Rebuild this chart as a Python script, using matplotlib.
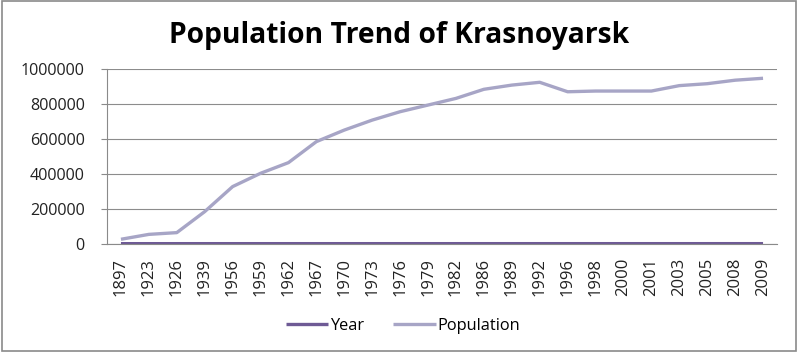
import matplotlib
matplotlib.use("Agg")
import matplotlib.pyplot as plt
from matplotlib.patches import Rectangle

years = ["1897", "1923", "1926", "1939", "1956", "1959", "1962", "1967", "1970", "1973",
         "1976", "1979", "1982", "1986", "1989", "1992", "1996", "1998", "2000", "2001",
         "2003", "2005", "2008", "2009"]
year_values = [int(y) for y in years]
population = [27000, 55000, 65000, 185000, 328000, 404000, 465000, 585000, 651000, 708000,
              756000, 794000, 832000, 884000, 908000, 924000, 870000, 874000, 874000, 874000,
              905000, 916000, 936000, 947000]
yticks = [0, 200000, 400000, 600000, 800000, 1000000]

plt.rcParams['font.family'] = ['Open Sans', 'DejaVu Sans']

fig = plt.figure(figsize=(7.98, 3.52), dpi=100)
ax = fig.add_axes([107/798, 1-244/352, (777-107)/798, (244-69)/352])

x = list(range(len(years)))
ax.plot(x, year_values, color='#6E5A95', lw=2.4, label='Year', solid_capstyle='butt')
ax.plot(x, population, color='#A7A5C6', lw=2.4, label='Population', solid_capstyle='butt')

ax.set_xlim(-0.5, len(years) - 0.5)
ax.set_ylim(0, 1000000)
ax.set_yticks(yticks)
ax.set_yticklabels([str(v) for v in yticks], fontsize=11.6, color='#222222')
ax.set_xticks(x)
ax.set_xticklabels(years, rotation=90, fontsize=12, color='#222222')
ax.tick_params(axis='x', length=0, pad=10)
ax.tick_params(axis='y', length=4, color='#8a8a8a', pad=12)
ax.grid(axis='y', color='#8c8c8c', lw=0.8)
ax.set_axisbelow(True)
for s in ['top', 'right']:
    ax.spines[s].set_visible(False)
ax.spines['left'].set_color('#8a8a8a')
ax.spines['bottom'].set_color('#8a8a8a')

fig.text(0.5, 1-35/352, 'Population Trend of Krasnoyarsk', ha='center', va='center',
         fontsize=20.3, fontweight='bold', family=['Open Sans', 'DejaVu Sans'])

fig.legend(loc='center', bbox_to_anchor=(403/798, 1-326/352), ncol=2, frameon=False,
           fontsize=11.8, handlelength=2.6, handletextpad=0.1, columnspacing=1.8)

fig.patches.append(Rectangle((0.003, 0.004), 0.994, 0.992, transform=fig.transFigure,
                             fill=False, edgecolor='#8a8a8a', lw=1.2))

fig.savefig('out.png', dpi=100, facecolor='white')
